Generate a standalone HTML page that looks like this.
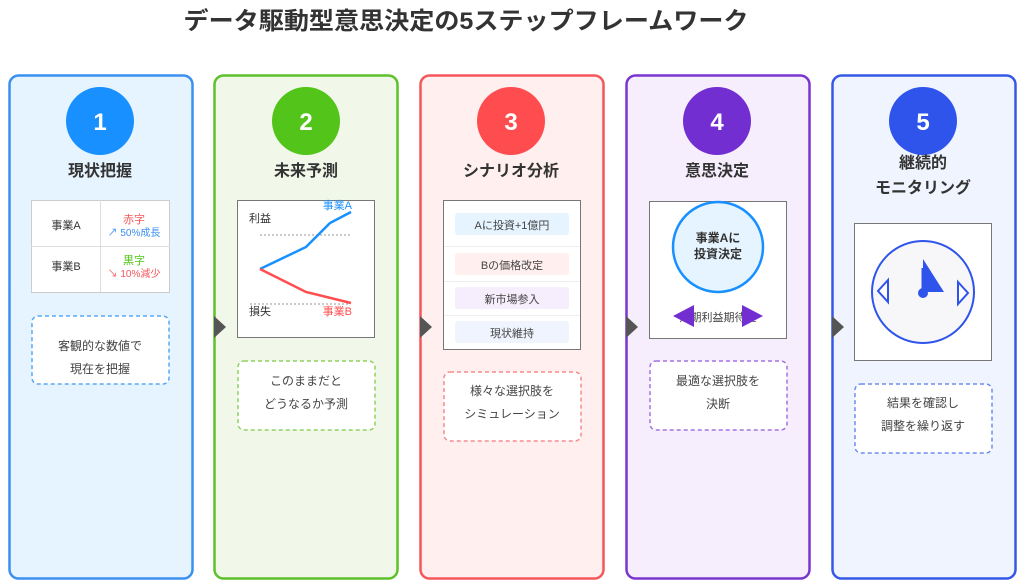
<!DOCTYPE html>
<html><head><meta charset="utf-8"><style>
html,body{margin:0;padding:0;background:#fff;}
svg{display:block;font-family:"Liberation Sans","Noto Sans CJK JP",sans-serif;}
</style></head><body>
<svg width="1024" height="583" viewBox="0 0 1024 583" xmlns="http://www.w3.org/2000/svg">
<text x="466" y="29" text-anchor="middle" font-size="24" font-weight="bold" fill="#333" textLength="565" lengthAdjust="spacingAndGlyphs">データ駆動型意思決定の5ステップフレームワーク</text>

<!-- panels -->
<rect x="9.5" y="75.5" width="183" height="503" rx="9" fill="#e6f4ff" stroke="#3a8ff0" stroke-width="2.5"/>
<rect x="214.5" y="75.5" width="183" height="503" rx="9" fill="#f1f8e9" stroke="#5cc12a" stroke-width="2.5"/>
<rect x="420.5" y="75.5" width="183" height="503" rx="9" fill="#fff0ef" stroke="#f5565a" stroke-width="2.5"/>
<rect x="626.5" y="75.5" width="183" height="503" rx="9" fill="#f6eefd" stroke="#7a35cf" stroke-width="2.5"/>
<rect x="832.5" y="75.5" width="183" height="503" rx="9" fill="#eff4ff" stroke="#3558e6" stroke-width="2.5"/>

<!-- arrows -->
<g fill="#555">
<polygon points="214,316 226,327 214,338"/>
<polygon points="420,316 432,327 420,338"/>
<polygon points="626,316 638,327 626,338"/>
<polygon points="832,316 844,327 832,338"/>
</g>

<!-- circles -->
<circle cx="100" cy="121" r="34" fill="#1890ff"/>
<circle cx="306" cy="121" r="34" fill="#52c41a"/>
<circle cx="511" cy="121" r="34" fill="#ff4d4f"/>
<circle cx="717" cy="121" r="34" fill="#722ed1"/>
<circle cx="923" cy="121" r="34" fill="#2f54eb"/>
<g fill="#fff" font-size="24" font-weight="bold" text-anchor="middle">
<text x="100" y="130">1</text><text x="306" y="130">2</text><text x="511" y="130">3</text><text x="717" y="130">4</text><text x="923" y="130">5</text>
</g>
<g fill="#333" font-size="16" font-weight="bold" text-anchor="middle">
<text x="100" y="176">現状把握</text><text x="306" y="176">未来予測</text><text x="511" y="176">シナリオ分析</text><text x="717" y="176">意思決定</text>
<text x="923" y="168">継続的</text><text x="923" y="193">モニタリング</text>
</g>

<!-- panel 1 table -->
<rect x="31.5" y="200.5" width="138" height="92" fill="#fff" stroke="#ccc"/>
<line x1="31" y1="246.5" x2="170" y2="246.5" stroke="#ddd"/>
<line x1="100.5" y1="200" x2="100.5" y2="292" stroke="#ddd"/>
<g font-size="11" fill="#333" text-anchor="middle"><text x="66" y="229">事業A</text><text x="66" y="270">事業B</text></g>
<text x="134" y="223" font-size="11" fill="#f5565a" text-anchor="middle">赤字</text>
<text x="134" y="236" font-size="10" fill="#3a8ff0" text-anchor="middle">↗ 50%成長</text>
<text x="134" y="264" font-size="11" fill="#52c41a" text-anchor="middle">黒字</text>
<text x="134" y="277" font-size="10" fill="#f5565a" text-anchor="middle">↘ 10%減少</text>

<!-- desc boxes -->
<g fill="#fff" stroke-width="1.5" stroke-dasharray="4,3">
<rect x="32" y="316" width="137" height="68" rx="6" stroke="#5aa8f5"/>
<rect x="238" y="361" width="137" height="69" rx="6" stroke="#8fd160"/>
<rect x="444" y="372" width="137" height="69" rx="6" stroke="#f78b8d"/>
<rect x="650" y="361" width="137" height="69" rx="6" stroke="#a473e0"/>
<rect x="855" y="384" width="137" height="69" rx="6" stroke="#6f8cf0"/>
</g>
<g font-size="12" fill="#444" text-anchor="middle">
<text x="100" y="350">客観的な数値で</text><text x="100" y="373">現在を把握</text>
<text x="306" y="385">このままだと</text><text x="306" y="408">どうなるか予測</text>
<text x="512" y="395">様々な選択肢を</text><text x="512" y="418">シミュレーション</text>
<text x="718" y="385">最適な選択肢を</text><text x="718" y="408">決断</text>
<text x="923" y="407">結果を確認し</text><text x="923" y="430">調整を繰り返す</text>
</g>

<!-- panel 2 chart -->
<rect x="237.5" y="200.5" width="137" height="137" fill="#fff" stroke="#777"/>
<line x1="260" y1="235" x2="350" y2="235" stroke="#999" stroke-dasharray="2,2"/>
<line x1="250" y1="304" x2="350" y2="304" stroke="#999" stroke-dasharray="2,2"/>
<polyline points="260,269 306,247 330,223 351,212" fill="none" stroke="#1890ff" stroke-width="2.5"/>
<polyline points="260,269 306,292 351,303" fill="none" stroke="#ff4d4f" stroke-width="2.5"/>
<text x="249" y="222" font-size="11" fill="#333">利益</text>
<text x="249" y="315" font-size="11" fill="#333">損失</text>
<text x="352" y="209" font-size="11" fill="#1890ff" text-anchor="end">事業A</text>
<text x="352" y="315" font-size="11" fill="#ff4d4f" text-anchor="end">事業B</text>

<!-- panel 3 list -->
<rect x="443.5" y="200.5" width="137" height="149" fill="#fff" stroke="#777"/>
<g stroke="#eee"><line x1="444" y1="246.5" x2="580" y2="246.5"/><line x1="444" y1="281.5" x2="580" y2="281.5"/><line x1="444" y1="315.5" x2="580" y2="315.5"/></g>
<rect x="455" y="213" width="114" height="22" rx="3" fill="#e6f4ff"/>
<rect x="455" y="253" width="114" height="22" rx="3" fill="#fff0ef"/>
<rect x="455" y="287" width="114" height="22" rx="3" fill="#f6eefd"/>
<rect x="455" y="321" width="114" height="22" rx="3" fill="#eff4ff"/>
<g font-size="11" fill="#444" text-anchor="middle">
<text x="512" y="229">Aに投資+1億円</text><text x="512" y="269">Bの価格改定</text><text x="512" y="303">新市場参入</text><text x="512" y="337">現状維持</text>
</g>

<!-- panel 4 -->
<rect x="649.5" y="201.5" width="137" height="137" fill="#fff" stroke="#777"/>
<circle cx="718" cy="247" r="45" fill="#e6f4ff" stroke="#1890ff" stroke-width="2.5"/>
<text x="718" y="242" font-size="12" font-weight="bold" fill="#333" text-anchor="middle">事業Aに</text>
<text x="718" y="258" font-size="12" font-weight="bold" fill="#333" text-anchor="middle">投資決定</text>
<text x="718" y="321" font-size="11" fill="#444" text-anchor="middle">短期利益期待値</text>
<polygon points="673,316 694,305 694,327" fill="#722ed1"/>
<polygon points="763,316 742,305 742,327" fill="#722ed1"/>

<!-- panel 5 -->
<rect x="854.5" y="223.5" width="137" height="137" fill="#fff" stroke="#777"/>
<circle cx="923" cy="292" r="51" fill="#f7f7f9" stroke="#2f54eb" stroke-width="2"/>
<polygon points="923,259 944,292 923,292" fill="#2f54eb"/>
<line x1="923" y1="268" x2="923" y2="292" stroke="#2f54eb" stroke-width="3"/>
<circle cx="923" cy="293" r="5" fill="#2f54eb"/>
<polygon points="888,280 878,291 888,302" fill="#fff" stroke="#2f54eb" stroke-width="2"/>
<polygon points="958,282 968,293 958,304" fill="#fff" stroke="#2f54eb" stroke-width="2"/>
</svg>
</body></html>
